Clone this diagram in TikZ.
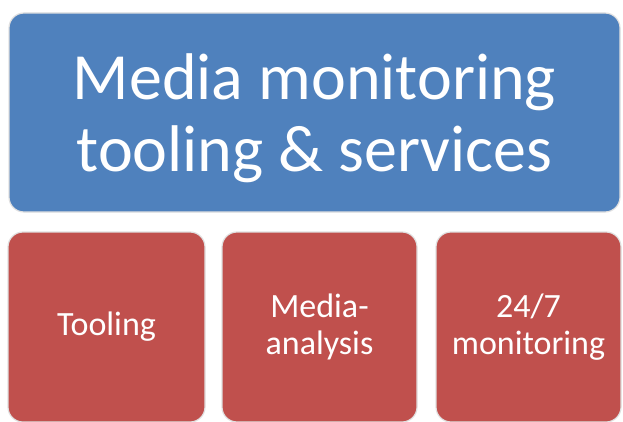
\documentclass[tikz,border=0pt]{standalone}
\usepackage{fontspec}
\setmainfont{Carlito}
\usepackage{tikz}
\usetikzlibrary{positioning,shapes}
\definecolor{mmblue}{RGB}{79,129,189}
\definecolor{mmred}{RGB}{192,80,77}
\tikzset{topbox/.style={draw=white!88!black, line width=1.2pt, fill=mmblue, rounded corners=15pt,
    inner sep=0pt},
  toptext/.style={text=white, align=center, inner sep=0pt, font=\fontsize{66}{72}\selectfont},
  subbox/.style={draw=white!88!black, line width=1.2pt, fill=mmred, rounded corners=15pt,
    text=white, align=center, inner sep=0pt, font=\fontsize{34}{37}\selectfont}}

\begin{document}
\begin{tikzpicture}[x=1pt,y=1pt]
\useasboundingbox (0,0) rectangle (623,421);

\node[topbox, minimum width=611pt, minimum height=199pt] (main) at (314.5,308.5) {};
\node[toptext, below=6pt of main.center, anchor=center] (maintext)
  {Media monitoring\\tooling \& services};

\node[subbox, minimum width=197pt, minimum height=190pt] (tool) at (106.5,94) {Tooling};
\node[subbox, minimum width=195pt, minimum height=190pt] (media) at (319.5,94) {Media-\\analysis};
\node[subbox, minimum width=185pt, minimum height=190pt] (watch) at (528.5,94) {24/7\\monitoring};

\end{tikzpicture}
\end{document}
